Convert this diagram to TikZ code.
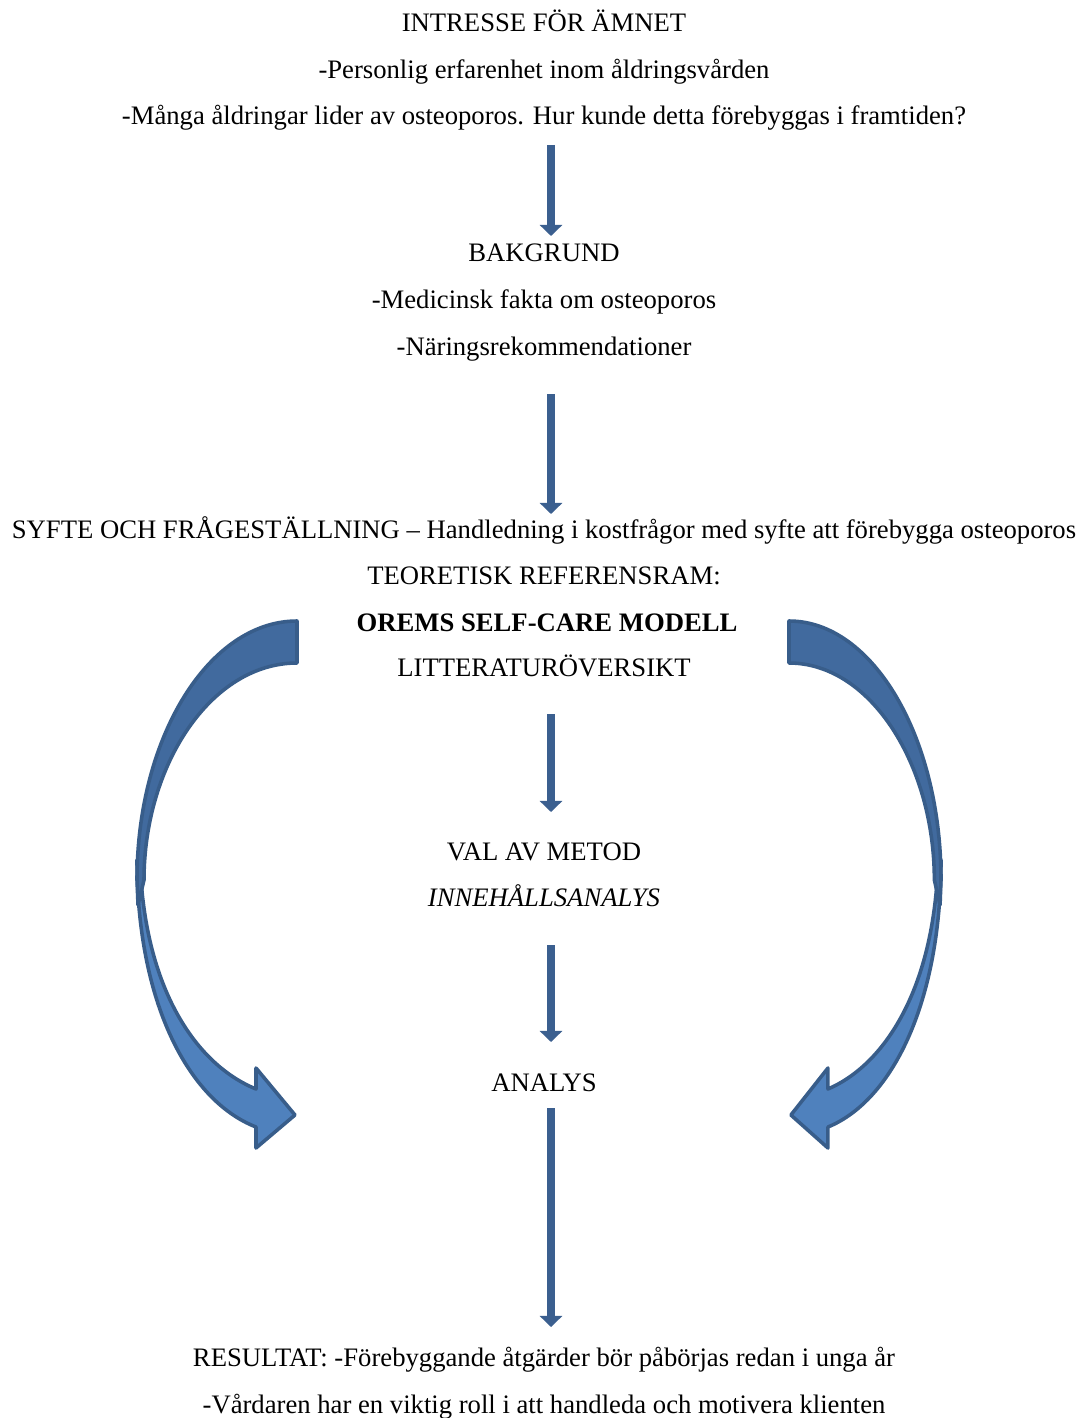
\documentclass[tikz,border=0pt]{standalone}
\usepackage{fontspec}
\setmainfont{Liberation Serif}
\usetikzlibrary{arrows.meta}

\definecolor{flowblue}{RGB}{59,95,143}
\definecolor{benddark}{RGB}{65,106,158}
\definecolor{bendlight}{RGB}{79,129,189}
\definecolor{bendline}{RGB}{56,93,138}

\tikzset{
  txt/.style={anchor=base,inner sep=0pt,font=\fontsize{12}{14}\selectfont},
  flow/.style={draw=flowblue,line width=4pt,
    -{Triangle[length=5pt,width=10pt]}},
  bendback/.style={fill=benddark,draw=bendline,line width=1.6pt,line join=round},
  bendfront/.style={fill=bendlight,draw=bendline,line width=1.6pt,line join=round}
}

% curved arrow, square end at x=0, bulging to the left
\newcommand{\bendarrow}{%
  \path[bendfront] (-160,860) .. controls (-160,1000) and (-110,1100) .. (-41,1127)
    -- (-41,1148) -- (-2,1115) -- (-41,1068) -- (-41,1089)
    .. controls (-100,1065) and (-153,990) .. (-157,860) -- cycle;
  \path[bendback] (0,621) .. controls (-88,621) and (-160,737) .. (-160,880)
    -- (-159,905) -- (-153,880) .. controls (-153,765) and (-86,663) .. (0,663) -- cycle;
}

\begin{document}
\begin{tikzpicture}[x=0.45pt,y=-0.45pt]
        \useasboundingbox (0,0) rectangle (1083,1418);
        % texts
        \node[txt] (intresse)   at (544,32)   {INTRESSE FÖR ÄMNET};
        \node[txt] (erfarenhet) at (544,79)   {-Personlig erfarenhet inom åldringsvården};
        \node[txt] (manga)      at (544,125)  {-Många åldringar lider av osteoporos. Hur kunde detta förebyggas i framtiden?};
        \node[txt] (bakgrund)   at (544,262)  {BAKGRUND};
        \node[txt] (medicinsk)  at (544,308)  {-Medicinsk fakta om osteoporos};
        \node[txt] (naring)     at (544,355)  {-Näringsrekommendationer};
        \node[txt] (syfte)      at (544,538)  {SYFTE OCH FRÅGESTÄLLNING – Handledning i kostfrågor med syfte att förebygga osteoporos};
        \node[txt] (teoretisk)  at (544,584)  {TEORETISK REFERENSRAM:};
        \node[txt] (orem)       at (547,631)  {\bfseries OREMS SELF-CARE MODELL};
        \node[txt] (litteratur) at (544,676)  {LITTERATURÖVERSIKT};
        \node[txt] (metod)      at (544,860)  {VAL AV METOD};
        \node[txt] (innehall)   at (544,906)  {\itshape INNEHÅLLSANALYS};
        \node[txt] (analys)     at (544,1091) {ANALYS};
        \node[txt] (resultat)   at (544,1366) {RESULTAT: -Förebyggande åtgärder bör påbörjas redan i unga år};
        \node[txt] (vardaren)   at (544,1413) {-Vårdaren har en viktig roll i att handleda och motivera klienten};
        % straight arrows
        \coordinate (a1s) at (551,145);  \coordinate (a1e) at (551,236);
        \coordinate (a2s) at (551,394);  \coordinate (a2e) at (551,514);
        \coordinate (a3s) at (551,714);  \coordinate (a3e) at (551,812);
        \coordinate (a4s) at (551,945);  \coordinate (a4e) at (551,1042);
        \coordinate (a5s) at (551,1108); \coordinate (a5e) at (551,1327);
        \foreach \n in {1,...,5} {
          \draw[flow] (a\n s) -- (a\n e);
        }
        % curved arrows
        \begin{scope}[xshift=297*0.45pt]
          \bendarrow
        \end{scope}
        \begin{scope}[xshift=789*0.45pt,xscale=-0.95]
          \bendarrow
        \end{scope}
      \end{tikzpicture}
\end{document}
